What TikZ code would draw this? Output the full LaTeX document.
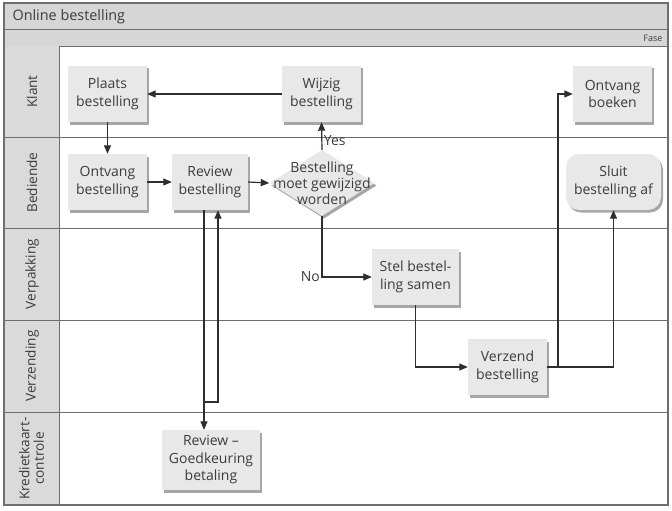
\documentclass[tikz,border=0pt]{standalone}
\usepackage{fontspec}
\setmainfont{Open Sans}
\usetikzlibrary{shapes.geometric,arrows.meta,shadows}
\definecolor{hdr}{HTML}{D6D6D6}
\definecolor{lanecol}{HTML}{DADADA}
\definecolor{boxfill}{HTML}{E8E8E8}
\definecolor{framec}{HTML}{6E6E6E}
\definecolor{txt}{HTML}{3C3C3C}
\definecolor{linec}{HTML}{2E2E2E}
\tikzset{
  stepbox/.style={fill=boxfill, text=txt, align=center, inner sep=1pt,
    minimum width=79pt, minimum height=56pt,
    font=\fontsize{14}{17.5}\selectfont,
    drop shadow={shadow xshift=2pt, shadow yshift=-2.5pt, fill=black, opacity=0.35}},
  lanetext/.style={rotate=90, text=txt, align=center, font=\fontsize{13.6}{14.5}\selectfont},
  lanesep/.style={draw=framec, line width=0.9pt},
  arr/.style={draw=linec, line width=1.2pt, -{Triangle[length=8.5pt,width=7pt]}},
  lbl/.style={text=txt, font=\fontsize{14}{15}\selectfont, inner sep=1.5pt}
}
\begin{document}
\begin{tikzpicture}[x=1pt,y=-1pt]
\useasboundingbox (0,0) rectangle (672,511);
\fill[white] (0,0) rectangle (672,511);
% header bars
\fill[hdr] (4,3) rectangle (668,46);
\draw[lanesep] (4,29) -- (668,29);
\draw[lanesep] (4,46) -- (668,46);
\node[anchor=west, text=txt, font=\fontsize{14.4}{15}\selectfont] (title) at (9,16.5) {Online bestelling};
\node[anchor=east, text=txt, font=\fontsize{9}{10}\selectfont] (fase) at (666,38) {Fase};
% lane label column
\fill[lanecol] (4,46) rectangle (59,505);
\draw[lanesep] (59,46) -- (59,505);
\foreach \yy in {137,228,320,412} { \draw[lanesep] (4,\yy) -- (668,\yy); }
\node[lanetext] (l1) at (32,91.5) {Klant};
\node[lanetext] (l2) at (32,182.5) {Bediende};
\node[lanetext] (l3) at (32,274) {Verpakking};
\node[lanetext] (l4) at (32,366) {Verzending};
\node[lanetext] (l5) at (31.5,458.5) {Kredietkaart-\\controle};
% outer frame
\draw[draw=framec, line width=1.2pt] (4,3) rectangle (668,505);

% nodes
\node[stepbox] (plaats) at (107.5,94) {Plaats\\bestelling};
\node[stepbox] (wijzig) at (321.5,94) {Wijzig\\bestelling};
\node[stepbox] (ontb) at (612.5,94) {Ontvang\\boeken};
\node[stepbox] (ontvb) at (107.5,182) {Ontvang\\bestelling};
\node[stepbox, minimum width=76pt] (review) at (210,182) {Review\\bestelling};
\node[stepbox, minimum width=95pt, rounded corners=13pt] (sluit) at (613.5,182) {Sluit\\bestelling af};
\node[stepbox, minimum width=87pt] (stel) at (415.5,277) {Stel bestel-\\ling samen};
\node[stepbox] (verz) at (507.5,367) {Verzend\\bestelling};
\node[stepbox, minimum width=98pt, minimum height=60pt, font=\fontsize{14}{17.5}\selectfont] (goed) at (211,460) {Review –\\Goedkeuring\\betaling};
\node[diamond, fill=boxfill, minimum width=105pt, minimum height=66pt, inner sep=0pt,
  drop shadow={shadow xshift=2pt, shadow yshift=-2.5pt, fill=black, opacity=0.35}] (dia) at (322,183) {};
\node[text=txt, align=center, font=\fontsize{14}{16}\selectfont] (diatext) at (dia.center) {Bestelling\\moet gewijzigd\\worden};

% connectors
\draw[arr] (wijzig.west) -- (plaats.east);
\draw[arr] (plaats.south) -- (ontvb.north);
\draw[arr] (ontvb.east) -- (review.west);
\draw[arr] (review.east) -- (dia.west);
\draw[arr] (dia.north) -- node[lbl, pos=0.35, anchor=west] {Yes} (wijzig.south);
\draw[arr] (dia.south) |- node[lbl, pos=0.5, anchor=east] {No} (stel.west);
\draw[arr] ([xshift=-6pt]review.south) -- ([xshift=-6pt]review.south |- goed.north);
\coordinate (ret) at (204,402);
\draw[arr] (ret) -| ([xshift=8pt]review.south);
\draw[arr] (stel.south) |- (verz.west);
\coordinate (split) at (558,367);
\draw[arr] (verz.east) -- (split) |- (ontb.west);
\draw[arr] (verz.east) -| (sluit.south);
\end{tikzpicture}
\end{document}
